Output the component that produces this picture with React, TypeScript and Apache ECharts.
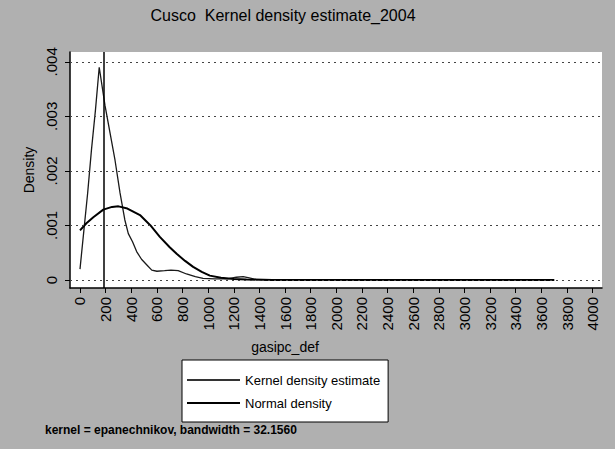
import React, { useEffect, useRef } from "react";
import * as echarts from "echarts";

const TITLE = "Cusco  Kernel density estimate_2004";
const X_TITLE = "gasipc_def";
const Y_TITLE = "Density";
const NOTE = "kernel = epanechnikov, bandwidth = 32.1560";
const SERIES_NAMES = ["Kernel density estimate", "Normal density"];

const KDE_X = [0, 30, 60, 90, 120, 150, 195, 234, 273, 312, 350, 377, 410, 442, 480, 520, 560, 600, 660, 710, 766, 831, 900, 960, 1050, 1150, 1220, 1273, 1320, 1370, 1450, 1800, 2200, 2700, 3200, 3700];
const KDE_Y = [0.0002, 0.0009, 0.0016, 0.0024, 0.0031, 0.0039, 0.0032, 0.0027, 0.0022, 0.0016, 0.0011, 0.00085, 0.0007, 0.00052, 0.00038, 0.00028, 0.00018, 0.00016, 0.00017, 0.00018, 0.00017, 0.00011, 0.00006, 0.00003, 0.00002, 0.00002, 0.00005, 0.00006, 0.00004, 0.00001, 0, 0.000005, 0.000005, 0.000008, 0.000005, 0];

const NORMAL_X = [0, 50, 104, 182, 250, 300, 370, 468, 550, 623, 700, 754, 820, 883, 950, 1013, 1100, 1200, 1300, 1500, 2500, 3700];
const NORMAL_Y = [0.00091, 0.00104, 0.00115, 0.00129, 0.00134, 0.00135, 0.00131, 0.00119, 0.001, 0.00079, 0.0006, 0.00048, 0.00035, 0.00024, 0.00015, 0.00008, 0.00004, 0.00002, 0.00001, 0, 0, 0];

const Y_GRID = [0, 0.001, 0.002, 0.003, 0.004];
const VLINE_X = 182;
const X_RANGE = [-78, 4073];
const Y_RANGE = [-0.000147, 0.00418];

const FONT = "Liberation Sans";

export default function App() {
  const ref = useRef<HTMLDivElement>(null);
  useEffect(() => {
    document.body.style.margin = "0";
    const chart = echarts.init(ref.current!, null, { renderer: "svg" });
    chart.setOption({
      animation: false,
      backgroundColor: "#b0b0b0",
      grid: {
        left: 70,
        right: 13,
        top: 52,
        bottom: 161,
        show: true,
        backgroundColor: "#fff",
        borderWidth: 0,
      },
      legend: {
        orient: "vertical",
        left: 182,
        top: 360,
        itemWidth: 53,
        itemHeight: 2,
        itemGap: 7,
        icon: "rect",
        padding: [12, 8, 11, 5],
        borderColor: "#000",
        borderWidth: 1,
        backgroundColor: "#fff",
        textStyle: { fontFamily: FONT, fontSize: 13, lineHeight: 16, color: "#000" },
        data: SERIES_NAMES,
      },
      xAxis: {
        type: "value",
        min: X_RANGE[0],
        max: X_RANGE[1],
        splitNumber: 20,
        axisLine: { show: true, onZero: false, lineStyle: { color: "#000", width: 1.5 } },
        axisTick: { show: true, length: 5, lineStyle: { color: "#000" } },
        axisLabel: {
          rotate: 90,
          margin: 9,
          showMinLabel: false,
          showMaxLabel: false,
          fontFamily: FONT,
          fontSize: 15,
          color: "#000",
          formatter: (v: number) => String(Math.round(v)),
        },
        splitLine: { show: false },
      },
      yAxis: {
        type: "value",
        min: Y_RANGE[0],
        max: Y_RANGE[1],
        splitNumber: 4,
        name: Y_TITLE,
        nameLocation: "middle",
        nameRotate: 90,
        nameGap: 30,
        nameTextStyle: { fontFamily: FONT, fontSize: 14, color: "#000" },
        axisLine: { show: true, onZero: false, lineStyle: { color: "#000", width: 1.5 } },
        axisTick: { show: true, length: 5, lineStyle: { color: "#000" } },
        axisLabel: {
          rotate: 90,
          margin: 11,
          showMinLabel: false,
          showMaxLabel: false,
          fontFamily: FONT,
          fontSize: 15,
          color: "#000",
          formatter: (v: number) => (Math.abs(v) < 1e-9 ? "0" : v.toFixed(3).replace(/^0/, "")),
        },
        splitLine: { show: false },
      },
      series: [
        {
          type: "line",
          name: SERIES_NAMES[0],
          data: KDE_X.map((x, i) => [x, KDE_Y[i]]),
          symbol: "none",
          showSymbol: false,
          lineStyle: { color: "#1a1a1a", width: 1.3 },
          itemStyle: { color: "#333" },
          z: 3,
          markLine: {
            silent: true,
            symbol: "none",
            label: { show: false },
            lineStyle: { color: "#444", width: 1, type: [2, 4] },
            data: Y_GRID.map((v) => [
              { coord: [X_RANGE[0], v] },
              { coord: [X_RANGE[1], v] },
            ]),
          },
        },
        {
          type: "line",
          name: SERIES_NAMES[1],
          data: NORMAL_X.map((x, i) => [x, NORMAL_Y[i]]),
          symbol: "none",
          showSymbol: false,
          lineStyle: { color: "#000", width: 2 },
          itemStyle: { color: "#000" },
          z: 4,
          markLine: {
            silent: true,
            symbol: "none",
            label: { show: false },
            lineStyle: { color: "#000", width: 1.5, type: "solid" },
            data: [{ xAxis: VLINE_X }],
          },
        },
      ],
      graphic: [
        {
          type: "text",
          x: 283,
          y: 15,
          style: {
            text: TITLE,
            font: `16px "${FONT}"`,
            fill: "#000",
            align: "center",
            verticalAlign: "middle",
          },
        },
        {
          type: "text",
          x: 285,
          y: 347,
          style: {
            text: X_TITLE,
            font: `14px "${FONT}"`,
            fill: "#000",
            align: "center",
            verticalAlign: "middle",
          },
        },
        {
          type: "text",
          x: 45,
          y: 430,
          style: {
            text: NOTE,
            font: `bold 12px "${FONT}"`,
            fill: "#000",
            verticalAlign: "middle",
          },
        },
      ],
    });
    return () => chart.dispose();
  }, []);
  return <div ref={ref} style={{ width: 615, height: 449 }} />;
}
